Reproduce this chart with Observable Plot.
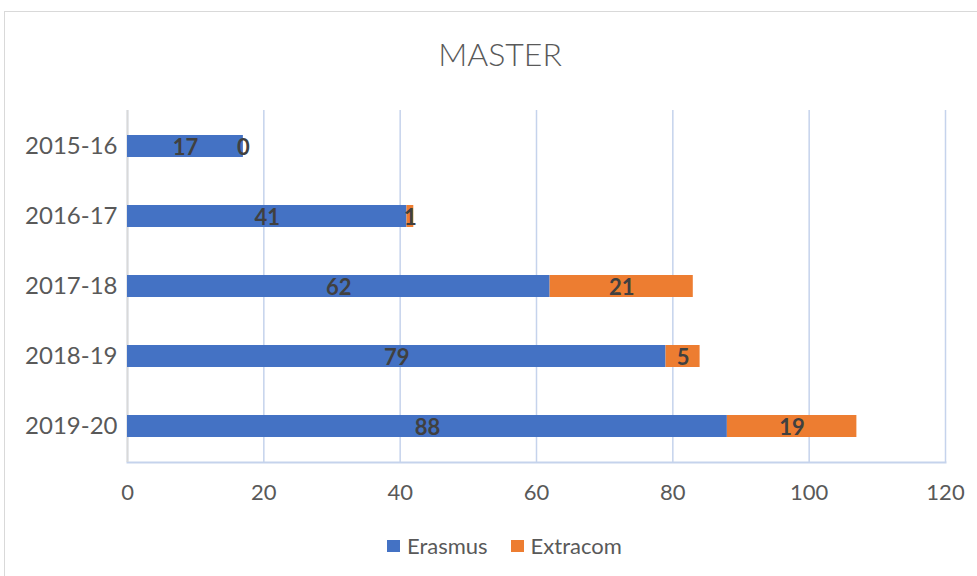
<!DOCTYPE html>
<html><head><meta charset="utf-8">
<script src="https://cdn.jsdelivr.net/npm/d3@7"></script>
<script src="https://cdn.jsdelivr.net/npm/@observablehq/plot@0.6"></script>
<style>
body{margin:0;background:#fff;font-family:Lato,"Open Sans",sans-serif;}
#wrap{position:relative;width:977px;height:576px;overflow:hidden;}
#frame{position:absolute;left:4px;top:11px;width:1000px;height:600px;border:1px solid #d9d9d9;box-sizing:border-box;}
#title{position:absolute;left:0;width:1000px;top:34px;text-align:center;font-size:32px;color:#595959;font-weight:300;line-height:40px;}
#plot{position:absolute;left:0;top:0;}
#legend{position:absolute;top:532px;left:387px;font-size:22px;color:#595959;display:flex;align-items:center;line-height:28px;}
.sw{display:inline-block;width:13px;height:12px;margin-right:7px;}
.item{display:flex;align-items:center;margin-right:23px;}
</style></head>
<body>
<div id="wrap">
<div id="frame"></div>
<div id="title">MASTER</div>
<div id="plot"></div>
<div id="legend"></div>
</div>
<script>
const years = ["2015-16","2016-17","2017-18","2018-19","2019-20"];
const erasmus = [17,41,62,79,88];
const extracom = [0,1,21,5,19];
const series = ["Erasmus","Extracom"];
const colors = ["#4472C4","#ED7D31"];
const xTicks = [0,20,40,60,80,100,120];

const data = [];
years.forEach((y,i)=>{
  data.push({year:y, series:"Erasmus", value:erasmus[i]});
  data.push({year:y, series:"Extracom", value:extracom[i]});
});

const chart = Plot.plot({
  width: 977,
  height: 576,
  marginLeft: 127,
  marginRight: 32,
  marginTop: 110,
  marginBottom: 114,
  style: {fontFamily: "Lato, 'Open Sans', sans-serif", fontSize: "22px", color: "#595959", background: "transparent"},
  x: {domain: [0,120], ticks: xTicks, tickSize: 0, label: null},
  y: {domain: years, paddingInner: 0.69, paddingOuter: 0.345, tickSize: 0, label: null},
  color: {domain: series, range: colors},
  marks: [
    Plot.gridX(xTicks, {stroke: "#c5d3ec", strokeOpacity: 1, strokeWidth: 1.5}),
    Plot.frame({anchor: "bottom", stroke: "#c5d3ec", strokeWidth: 2}),
    Plot.ruleX([0], {stroke: "#d9d9d9", strokeWidth: 2}),
    Plot.barX(data, Plot.stackX({x: "value", y: "year", fill: "series", order: series})),
    Plot.text(data, Plot.stackX({x: "value", y: "year", z: "series", order: series, text: d => String(d.value), fill: "#404040", fontWeight: "bold", fontSize: 22, dy: 1})),
    Plot.axisX({ticks: xTicks, tickSize: 0, tickPadding: 22, fill: "#595959", fontSize: 22}),
    Plot.axisY({tickSize: 0, tickPadding: 10, fill: "#595959", fontSize: 24})
  ]
});
document.getElementById("plot").appendChild(chart);

const lg = document.getElementById("legend");
series.forEach((s,i)=>{
  const it = document.createElement("div");
  it.className = "item";
  it.innerHTML = `<span class="sw" style="background:${colors[i]}"></span><span>${s}</span>`;
  lg.appendChild(it);
});
</script>
</body></html>
